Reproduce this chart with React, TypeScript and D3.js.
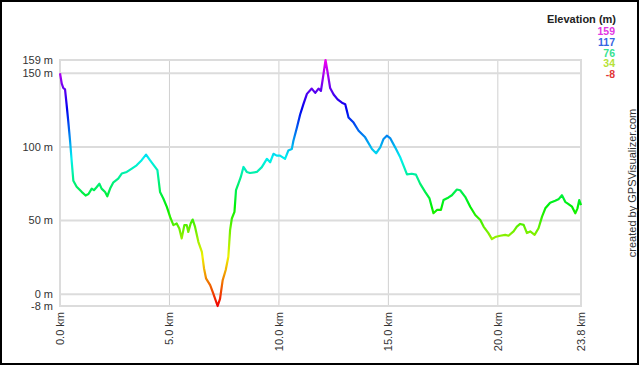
import React from 'react';
import * as d3 from 'd3';

const W = 640, H = 366;

// distance along track (km) and elevation (m)
const dist = [0, 0.08, 0.15, 0.23, 0.3, 0.38, 0.46, 0.53, 0.61, 0.76,
  0.99, 1.17, 1.3, 1.45, 1.55, 1.68, 1.8, 1.9, 2.06, 2.16,
  2.29, 2.44, 2.66, 2.82, 3.05, 3.28, 3.5, 3.73, 3.93, 4.11,
  4.34, 4.45, 4.57, 4.72, 4.88, 5.03, 5.18, 5.33, 5.45, 5.56,
  5.68, 5.79, 5.86, 5.97, 6.06, 6.17, 6.32, 6.48, 6.58, 6.67,
  6.86, 7.0, 7.2, 7.31, 7.43, 7.57, 7.69, 7.77, 7.85, 7.97,
  8.04, 8.15, 8.26, 8.38, 8.53, 8.68, 8.99, 9.22, 9.45, 9.6,
  9.75, 9.9, 10.05, 10.28, 10.43, 10.59, 10.66, 10.82, 10.97, 11.12,
  11.28, 11.5, 11.66, 11.81, 11.92, 12.01, 12.13, 12.22, 12.34, 12.5,
  12.68, 12.88, 13.03, 13.18, 13.41, 13.64, 13.94, 14.25, 14.44, 14.63,
  14.78, 14.93, 15.08, 15.31, 15.54, 15.72, 15.85, 16.07, 16.26, 16.45,
  16.68, 16.88, 17.06, 17.22, 17.4, 17.52, 17.75, 17.9, 18.13, 18.28,
  18.51, 18.74, 18.97, 19.2, 19.35, 19.57, 19.73, 19.88, 20.11, 20.34,
  20.49, 20.72, 20.87, 21.02, 21.18, 21.33, 21.48, 21.68, 21.86, 22.02,
  22.17, 22.39, 22.62, 22.77, 22.93, 23.08, 23.23, 23.39, 23.54, 23.64,
  23.72, 23.8];

const elev = [150, 143, 140, 139, 129, 117, 104, 91, 77, 73,
  69.5, 67, 68, 71.7, 70.6, 72.8, 75, 71.7, 69.4, 66.5,
  71.7, 76, 78.5, 81.9, 83, 85.3, 87.5, 91, 94.8, 91,
  86.4, 84.2, 69.4, 65, 59.3, 52.5, 46.9, 48, 44.6, 37.9,
  46.9, 46.9, 42.3, 48, 50.7, 45.7, 35.6, 28.8, 17.5, 10.8,
  6.2, 0.6, -8, -3.2, 9.4, 16.4, 25.4, 43.5, 51.4, 55.9,
  70.6, 75, 79.6, 86.4, 83, 82.3, 83, 86.3, 91.9, 89.6,
  95.3, 94.1, 94.1, 91.9, 97.5, 98.6, 104, 113, 122, 129,
  136, 139.6, 136.7, 139.6, 138, 146.8, 159, 151, 140, 135.6,
  132.3, 130, 129, 120, 116.5, 111, 106.5, 98.6, 95.7, 99.7,
  105.4, 107.6, 106, 99.7, 93, 86.3, 81.4, 81.8, 81.2, 75.1,
  69.5, 65, 55, 57.2, 57.2, 63.9, 65.7, 67.2, 71.1, 70.6,
  66.1, 59.4, 53.8, 50.4, 45.9, 41.5, 37.4, 38.8, 39.7, 40.3,
  39.7, 42.6, 45.9, 47.7, 47.1, 41.5, 42.6, 40.3, 44.8, 52.7,
  58.3, 62.1, 63.4, 64.4, 67.2, 62.7, 61.2, 59.4, 54.9, 58.3,
  63.9, 60.5];

const xTicks = [0, 5, 10, 15, 20, 23.8];
const yTicks = [-8, 0, 50, 100, 150, 159];
const yGrid = [0, 50, 100, 150];
const legendVals = [159, 117, 76, 34, -8];

const minE = -8, maxE = 159;

export default function App() {
  const x = d3.scaleLinear().domain([0, 23.8]).range([60, 581]);
  const y = d3.scaleLinear().domain([minE, maxE]).range([306, 60]);
  const hue = d3.scaleLinear().domain([minE, maxE]).range([0, 300]);
  const lineCol = (e: number) => d3.hsl(hue(e), 1, 0.47).formatHex();
  const labCol = (e: number) => d3.hsl(hue(e), 0.75, 0.55).formatHex();

  const pts = dist.map((d, i) => [d, elev[i]] as [number, number]);
  const line = d3.line<[number, number]>().x(d => x(d[0])).y(d => y(d[1]));

  const stops = d3.range(0, 11).map(i => minE + (maxE - minE) * i / 10);
  const font = "'Liberation Sans', Arial, sans-serif";

  return (
    <div style={{ position: 'fixed', left: 0, top: 0 }}>
      <svg width={W} height={H} style={{ display: 'block', background: '#fff' }} fontFamily={font}>
        <defs>
          <linearGradient id="elevGrad" gradientUnits="userSpaceOnUse" x1={0} x2={0} y1={y(minE)} y2={y(maxE)}>
            {stops.map((s, i) => (
              <stop key={i} offset={i / 10} stopColor={lineCol(s)} />
            ))}
          </linearGradient>
        </defs>
        <rect x={1} y={1} width={W - 3} height={H - 3} fill="#fff" stroke="#000" strokeWidth={2} />

        {xTicks.slice(1, 5).map(t => (
          <line key={'vx' + t} x1={x(t)} x2={x(t)} y1={60} y2={306} stroke="#d0d0d0" strokeWidth={1} />
        ))}
        {yGrid.map(t => (
          <line key={'gy' + t} x1={60} x2={581} y1={y(t)} y2={y(t)} stroke="#dcdcdc" strokeWidth={2} />
        ))}
        <rect x={60} y={60} width={521} height={246} fill="none" stroke="#dcdcdc" strokeWidth={2} />

        {yTicks.map(t => (
          <text key={'ty' + t} x={53} y={y(t)} dy="0.35em" textAnchor="end" fontSize={11} fill="#333">
            {t + ' m'}
          </text>
        ))}
        {xTicks.map(t => (
          <text key={'tx' + t} transform={`translate(${x(t) + 4},312) rotate(-90)`} textAnchor="end" fontSize={11} fill="#333">
            {t.toFixed(1) + ' km'}
          </text>
        ))}

        <path d={line(pts) || ''} fill="none" stroke="url(#elevGrad)" strokeWidth={2.2} strokeLinejoin="round" />

        <text x={616} y={23} textAnchor="end" fontSize={11} fontWeight="bold" fill="#222">Elevation (m)</text>
        {legendVals.map((v, i) => (
          <text key={'lg' + v} x={615} y={35 + i * 10.8} textAnchor="end" fontSize={10.5} fontWeight="bold" fill={labCol(v)}>
            {v}
          </text>
        ))}

        <text transform="translate(636,183) rotate(-90)" textAnchor="middle" fontSize={11} fill="#333">
          created by GPSVisualizer.com
        </text>
      </svg>
    </div>
  );
}
